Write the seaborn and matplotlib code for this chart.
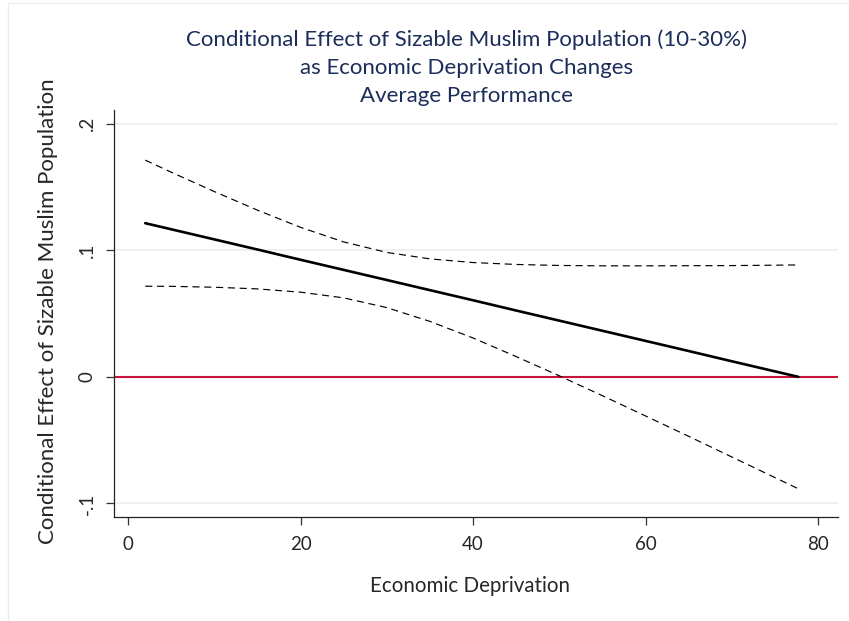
import numpy as np
import pandas as pd
import matplotlib
matplotlib.use("Agg")
import matplotlib.pyplot as plt
from matplotlib.patches import Rectangle
import seaborn as sns

# values
deprivation = [2, 5, 10, 15, 20, 25, 30, 35, 40, 45, 50, 55, 60, 65, 70, 77.7]
effect = [0.1214, 0.1166, 0.1086, 0.1006, 0.0925, 0.0845, 0.0765, 0.0685,
          0.0605, 0.0524, 0.0444, 0.0364, 0.0284, 0.0204, 0.0123, 0.0]
upper = [0.1712, 0.1617, 0.1464, 0.1317, 0.1181, 0.1066, 0.0983, 0.0932,
         0.0903, 0.0888, 0.0880, 0.0877, 0.0877, 0.0878, 0.0879, 0.0884]
lower = [0.0716, 0.0715, 0.0708, 0.0695, 0.0669, 0.0624, 0.0547, 0.0438,
         0.0307, 0.0160, 0.0008, -0.0149, -0.0309, -0.0470, -0.0633, -0.0884]

xticks = [0, 20, 40, 60, 80]
yticks = [-0.1, 0, 0.1, 0.2]
ytick_labels = ["-.1", "0", ".1", ".2"]

title_lines = ["Conditional Effect of Sizable Muslim Population (10-30%)",
               "as Economic Deprivation Changes",
               "Average Performance"]

df = pd.DataFrame({"x": deprivation, "effect": effect, "upper": upper, "lower": lower})

sns.set_style("white")
plt.rcParams["font.family"] = ["Lato", "DejaVu Sans"]

fig = plt.figure(figsize=(8.49, 6.21), dpi=100)
ax = fig.add_axes([114 / 849, 1 - 517 / 621, (838 - 114) / 849, (517 - 110) / 621])

for yv in yticks:
    ax.axhline(yv, color="#eaf1f3", lw=1.3, zorder=0)
ax.axhline(0, color="#c8133b", lw=1.5, zorder=1)

sns.lineplot(data=df, x="x", y="upper", ax=ax, color="black", lw=0.85,
             linestyle=(0, (6, 4)), zorder=2)
sns.lineplot(data=df, x="x", y="lower", ax=ax, color="black", lw=0.85,
             linestyle=(0, (6, 4)), zorder=2)
sns.lineplot(data=df, x="x", y="effect", ax=ax, color="black", lw=1.9, zorder=3)

ax.set_xlim(-1.62, 82.3)
ax.set_ylim(-0.1107, 0.2108)
ax.set_xticks(xticks)
ax.set_yticks(yticks)
ax.set_yticklabels(ytick_labels, rotation=90, va="center")
ax.tick_params(axis="both", direction="out", length=6, width=0.9, color="#333333",
               labelsize=13.5, left=True, bottom=True)
ax.tick_params(axis="x", pad=8)
ax.tick_params(axis="y", pad=7)
for side in ["top", "right"]:
    ax.spines[side].set_visible(False)
for side in ["left", "bottom"]:
    ax.spines[side].set_color("#222222")
    ax.spines[side].set_linewidth(0.9)

ax.set_xlabel("Economic Deprivation", fontsize=14.8)
ax.set_ylabel("Conditional Effect of Sizable Muslim Population", fontsize=16)
ax.xaxis.set_label_coords(0.4917, -0.145)
ax.yaxis.set_label_coords(-0.077, 0.505)

fig.text(467 / 849, 1 - 29 / 621, "\n".join(title_lines), ha="center", va="top",
         fontsize=16, color="#1c2d5a", linespacing=1.5)

fig.patches.append(Rectangle((8 / 849, -0.1), 1.2, 1.1 - 3 / 621, fill=False,
                             ec="#e6eef0", lw=1, transform=fig.transFigure))

fig.savefig("out.png", dpi=100)
